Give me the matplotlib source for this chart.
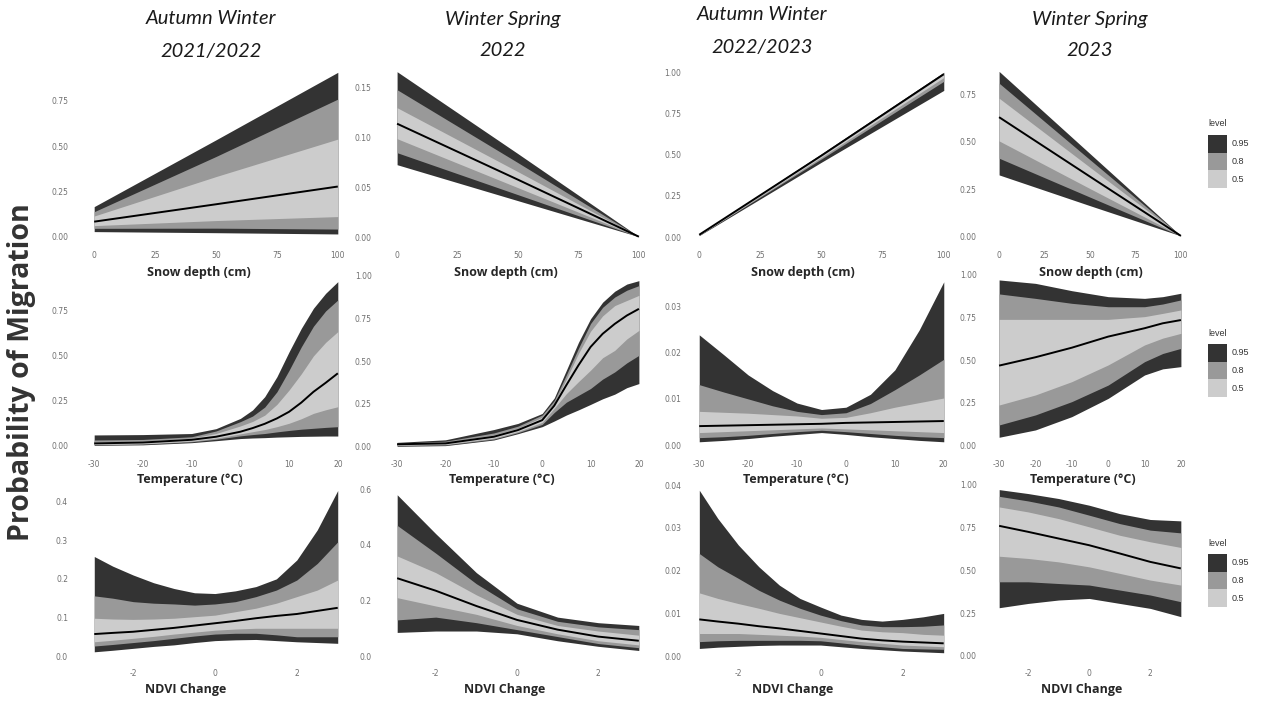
import matplotlib
matplotlib.use("Agg")
import matplotlib.pyplot as plt
from matplotlib.patches import Rectangle

# ----------------------------------------------------------------------
# Data
# each panel: [lo95, lo80, lo50, median, hi50, hi80, hi95]
# ----------------------------------------------------------------------
season_line1 = ["Autumn Winter", "Winter Spring", "Autumn Winter", "Winter Spring"]
season_line2 = ["2021/2022", "2022", "2022/2023", "2023"]
row_xlabels = ["Snow depth (cm)", "Temperature (°C)", "NDVI Change"]
levels = ["0.95", "0.8", "0.5"]

snow_x = [0, 50, 100]
temp_x_aw21 = [-30, -20, -10, -5, 0, 2.5, 5, 7.5, 10, 12.5, 15, 17.5, 20]
temp_x_ws22 = [-30, -20, -10, -5, 0, 2.5, 5, 7.5, 10, 12.5, 15, 17.5, 20]
temp_x_aw22 = [-30, -25, -20, -15, -10, -5, 0, 5, 10, 15, 20]
temp_x_ws23 = [-30, -20, -10, 0, 10, 15, 20]
ndvi_x = [-2.95, -2, -1, 0, 1, 2, 3]
ndvi_x_fine = [-2.95, -2.5, -2, -1.5, -1, -0.5, 0, 0.5, 1, 1.5, 2, 2.5, 3]

aw21_snow = [[0.028, 0.022, 0.015],
             [0.046, 0.047, 0.042],
             [0.061, 0.089, 0.111],
             [0.083, 0.179, 0.277],
             [0.114, 0.332, 0.539],
             [0.138, 0.443, 0.760],
             [0.166, 0.535, 0.908]]
ws22_snow = [[0.073, 0.037, 0.001],
             [0.085, 0.043, 0.001],
             [0.099, 0.050, 0.001],
             [0.114, 0.058, 0.001],
             [0.130, 0.066, 0.001],
             [0.148, 0.075, 0.001],
             [0.166, 0.084, 0.001]]
aw22_snow = [[0.010, 0.455, 0.890],
             [0.012, 0.475, 0.945],
             [0.013, 0.485, 0.968],
             [0.015, 0.495, 0.988],
             [0.016, 0.499, 0.992],
             [0.017, 0.502, 0.996],
             [0.018, 0.506, 1.000]]
ws23_snow = [[0.325, 0.163, 0.004],
             [0.413, 0.208, 0.004],
             [0.504, 0.253, 0.004],
             [0.629, 0.316, 0.004],
             [0.729, 0.365, 0.004],
             [0.808, 0.405, 0.004],
             [0.870, 0.437, 0.004]]

aw21_temp = [[0.002, 0.005, 0.017, 0.028, 0.040, 0.043, 0.045, 0.048, 0.050, 0.052, 0.053, 0.054, 0.054],
             [0.005, 0.009, 0.022, 0.036, 0.055, 0.062, 0.068, 0.077, 0.085, 0.092, 0.097, 0.102, 0.106],
             [0.008, 0.012, 0.026, 0.042, 0.066, 0.078, 0.090, 0.106, 0.125, 0.150, 0.180, 0.200, 0.217],
             [0.013, 0.018, 0.033, 0.050, 0.078, 0.098, 0.122, 0.152, 0.189, 0.240, 0.300, 0.350, 0.403],
             [0.022, 0.026, 0.042, 0.068, 0.110, 0.135, 0.170, 0.230, 0.310, 0.400, 0.500, 0.575, 0.635],
             [0.032, 0.035, 0.050, 0.082, 0.134, 0.165, 0.215, 0.300, 0.420, 0.550, 0.665, 0.750, 0.811],
             [0.060, 0.062, 0.068, 0.095, 0.152, 0.199, 0.273, 0.384, 0.523, 0.653, 0.765, 0.848, 0.913]]
ws22_temp = [[0.002, 0.006, 0.039, 0.076, 0.117, 0.150, 0.185, 0.215, 0.247, 0.280, 0.307, 0.345, 0.369],
             [0.006, 0.010, 0.044, 0.082, 0.130, 0.200, 0.260, 0.300, 0.340, 0.395, 0.437, 0.490, 0.534],
             [0.010, 0.014, 0.050, 0.088, 0.142, 0.225, 0.310, 0.380, 0.447, 0.520, 0.563, 0.630, 0.680],
             [0.014, 0.019, 0.058, 0.097, 0.155, 0.240, 0.360, 0.476, 0.583, 0.660, 0.718, 0.767, 0.806],
             [0.017, 0.026, 0.068, 0.108, 0.172, 0.255, 0.395, 0.545, 0.675, 0.765, 0.825, 0.855, 0.885],
             [0.020, 0.032, 0.080, 0.120, 0.185, 0.270, 0.420, 0.575, 0.720, 0.815, 0.875, 0.915, 0.942],
             [0.025, 0.040, 0.100, 0.136, 0.194, 0.285, 0.447, 0.610, 0.748, 0.845, 0.909, 0.951, 0.971]]
aw22_temp = [[0.0007, 0.0010, 0.0014, 0.0019, 0.0023, 0.0027, 0.0023, 0.0018, 0.0014, 0.0010, 0.0007],
             [0.0016, 0.0018, 0.0021, 0.0025, 0.0029, 0.0032, 0.0029, 0.0025, 0.0021, 0.0018, 0.0016],
             [0.0027, 0.0029, 0.0031, 0.0033, 0.0035, 0.0037, 0.0035, 0.0033, 0.0031, 0.0029, 0.0027],
             [0.0041, 0.0042, 0.0043, 0.0044, 0.0045, 0.0046, 0.0048, 0.0049, 0.0050, 0.0051, 0.0052],
             [0.0073, 0.0071, 0.0069, 0.0066, 0.0063, 0.0058, 0.0060, 0.0070, 0.0082, 0.0092, 0.0102],
             [0.0131, 0.0115, 0.0100, 0.0085, 0.0073, 0.0066, 0.0070, 0.0090, 0.0120, 0.0152, 0.0186],
             [0.0239, 0.0196, 0.0152, 0.0118, 0.0091, 0.0077, 0.0082, 0.0110, 0.0163, 0.0250, 0.0354]]
ws23_temp = [[0.049, 0.092, 0.170, 0.277, 0.414, 0.450, 0.463],
             [0.121, 0.180, 0.258, 0.355, 0.492, 0.540, 0.570],
             [0.238, 0.297, 0.375, 0.473, 0.590, 0.630, 0.658],
             [0.469, 0.518, 0.574, 0.639, 0.688, 0.717, 0.736],
             [0.740, 0.740, 0.740, 0.740, 0.756, 0.775, 0.795],
             [0.889, 0.863, 0.834, 0.814, 0.814, 0.830, 0.854],
             [0.971, 0.951, 0.908, 0.873, 0.863, 0.873, 0.893]]

aw21_ndvi = [[0.011, 0.015, 0.020, 0.025, 0.029, 0.035, 0.040, 0.042, 0.043, 0.040, 0.037, 0.035, 0.033],
             [0.026, 0.030, 0.035, 0.040, 0.046, 0.052, 0.057, 0.059, 0.059, 0.055, 0.050, 0.050, 0.050],
             [0.037, 0.041, 0.046, 0.051, 0.057, 0.062, 0.067, 0.070, 0.072, 0.072, 0.072, 0.072, 0.072],
             [0.057, 0.060, 0.063, 0.068, 0.073, 0.079, 0.085, 0.091, 0.098, 0.104, 0.109, 0.117, 0.125],
             [0.098, 0.096, 0.095, 0.096, 0.098, 0.102, 0.106, 0.115, 0.124, 0.137, 0.154, 0.171, 0.197],
             [0.156, 0.150, 0.141, 0.137, 0.135, 0.132, 0.135, 0.141, 0.154, 0.171, 0.197, 0.240, 0.296],
             [0.258, 0.233, 0.210, 0.190, 0.175, 0.164, 0.162, 0.169, 0.180, 0.200, 0.249, 0.327, 0.429]]
ws22_ndvi = [[0.085, 0.090, 0.090, 0.080, 0.055, 0.035, 0.020],
             [0.130, 0.140, 0.120, 0.095, 0.070, 0.045, 0.030],
             [0.210, 0.180, 0.150, 0.110, 0.080, 0.055, 0.040],
             [0.280, 0.235, 0.180, 0.130, 0.095, 0.070, 0.055],
             [0.360, 0.300, 0.220, 0.150, 0.110, 0.090, 0.075],
             [0.470, 0.370, 0.260, 0.170, 0.125, 0.105, 0.095],
             [0.580, 0.440, 0.300, 0.190, 0.140, 0.120, 0.110]]
aw22_ndvi = [[0.0018, 0.0021, 0.0023, 0.0025, 0.0026, 0.0026, 0.0026, 0.0022, 0.0018, 0.0015, 0.0012, 0.0010, 0.0008],
             [0.0034, 0.0036, 0.0037, 0.0037, 0.0037, 0.0037, 0.0036, 0.0031, 0.0026, 0.0022, 0.0018, 0.0017, 0.0016],
             [0.0053, 0.0053, 0.0053, 0.0051, 0.0049, 0.0047, 0.0044, 0.0039, 0.0034, 0.0030, 0.0026, 0.0024, 0.0022],
             [0.0086, 0.0081, 0.0076, 0.0070, 0.0065, 0.0059, 0.0053, 0.0047, 0.0041, 0.0037, 0.0034, 0.0032, 0.0030],
             [0.0148, 0.0135, 0.0123, 0.0112, 0.0100, 0.0090, 0.0080, 0.0070, 0.0061, 0.0057, 0.0055, 0.0051, 0.0049],
             [0.0240, 0.0209, 0.0182, 0.0154, 0.0131, 0.0112, 0.0096, 0.0083, 0.0073, 0.0069, 0.0069, 0.0070, 0.0073],
             [0.0388, 0.0322, 0.0260, 0.0209, 0.0166, 0.0135, 0.0115, 0.0096, 0.0086, 0.0082, 0.0086, 0.0092, 0.0100]]
ws23_ndvi = [[0.281, 0.306, 0.326, 0.335, 0.306, 0.277, 0.229],
             [0.432, 0.432, 0.422, 0.413, 0.384, 0.355, 0.316],
             [0.581, 0.568, 0.548, 0.519, 0.481, 0.442, 0.413],
             [0.758, 0.723, 0.684, 0.645, 0.597, 0.548, 0.510],
             [0.868, 0.839, 0.800, 0.752, 0.703, 0.665, 0.632],
             [0.930, 0.903, 0.868, 0.820, 0.771, 0.733, 0.717],
             [0.969, 0.946, 0.917, 0.878, 0.829, 0.795, 0.787]]

snow_xticks = [0, 25, 50, 75, 100]
temp_xticks = [-30, -20, -10, 0, 10, 20]
ndvi_xticks = [-2, 0, 2]

# per panel: (x, bands, yticks, tick format)
panels = [
    [(snow_x, aw21_snow, [0, 0.25, 0.5, 0.75], "{:.2f}"),
     (snow_x, ws22_snow, [0, 0.05, 0.10, 0.15], "{:.2f}"),
     (snow_x, aw22_snow, [0, 0.25, 0.5, 0.75, 1.0], "{:.2f}"),
     (snow_x, ws23_snow, [0, 0.25, 0.5, 0.75], "{:.2f}")],
    [(temp_x_aw21, aw21_temp, [0, 0.25, 0.5, 0.75], "{:.2f}"),
     (temp_x_ws22, ws22_temp, [0, 0.25, 0.5, 0.75, 1.0], "{:.2f}"),
     (temp_x_aw22, aw22_temp, [0, 0.01, 0.02, 0.03], "{:.2f}"),
     (temp_x_ws23, ws23_temp, [0, 0.25, 0.5, 0.75, 1.0], "{:.2f}")],
    [(ndvi_x_fine, aw21_ndvi, [0, 0.1, 0.2, 0.3, 0.4], "{:.1f}"),
     (ndvi_x, ws22_ndvi, [0, 0.2, 0.4, 0.6], "{:.1f}"),
     (ndvi_x_fine, aw22_ndvi, [0, 0.01, 0.02, 0.03, 0.04], "{:.2f}"),
     (ndvi_x, ws23_ndvi, [0, 0.25, 0.5, 0.75, 1.0], "{:.2f}")],
]
row_xticks = [snow_xticks, temp_xticks, ndvi_xticks]

# ----------------------------------------------------------------------
# Layout (pixels in a 1263 x 702 canvas)
# ----------------------------------------------------------------------
W, H = 1263, 702
col_px = [(82, 350), (385, 651), (687, 956), (990, 1190)]
row_px = [(64, 245), (268, 454), (477, 663)]
row_xlim = [(-5, 105), (-32.5, 22.5), (-3.25, 3.30)]
ylims = [[(-0.046, 0.954), (-0.0073, 0.1737), (-0.047, 1.050), (-0.044, 0.909)],
         [(-0.046, 0.989), (-0.043, 1.045), (-0.00195, 0.0384), (-0.049, 1.041)],
         [(-0.018, 0.464), (-0.025, 0.644), (-0.0016, 0.0419), (-0.041, 1.0425)]]
ytick_pad = [10, 9.5, 4, 9.5]
title_x = [211, 503, 762, 1090]
title_y1 = [19, 19, 15, 19]
title_y2 = [52, 50, 47, 50]
xlabel_x = [[199, 506, 803, 1091], [190, 502, 796, 1083], [186, 505, 793, 1082]]
xlabel_y = [273, 479, 690]
legend_top = [124, 333, 543]

fill_colors = ["#333333", "#999999", "#cccccc"]   # 0.95, 0.8, 0.5
tick_color = "#707070"
text_color = "#262626"
label_font = ["Open Sans", "DejaVu Sans"]
title_font = ["Lato", "DejaVu Sans"]
legend_font = ["Liberation Sans", "DejaVu Sans"]

fig = plt.figure(figsize=(W / 100, H / 100), dpi=100)


def fig_rect(x0, y0, x1, y1):
    return [x0 / W, 1 - y1 / H, (x1 - x0) / W, (y1 - y0) / H]


for r in range(3):
    for c in range(4):
        x, bands, yticks, fmt = panels[r][c]
        ax = fig.add_axes(fig_rect(col_px[c][0], row_px[r][0], col_px[c][1], row_px[r][1]))
        lo95, lo80, lo50, med, hi50, hi80, hi95 = bands
        ax.fill_between(x, lo95, hi95, color=fill_colors[0], linewidth=0)
        ax.fill_between(x, lo80, hi80, color=fill_colors[1], linewidth=0)
        ax.fill_between(x, lo50, hi50, color=fill_colors[2], linewidth=0)
        ax.plot(x, med, color="black", linewidth=1.4, solid_capstyle="butt")
        ax.set_xlim(*row_xlim[r])
        ax.set_ylim(*ylims[r][c])
        ax.set_xticks(row_xticks[r])
        ax.set_xticklabels([str(t) for t in row_xticks[r]])
        ax.set_yticks(yticks)
        ax.set_yticklabels([fmt.format(t) for t in yticks])
        ax.tick_params(axis="both", length=0, labelsize=5.5, labelcolor=tick_color)
        ax.tick_params(axis="y", pad=ytick_pad[c])
        ax.tick_params(axis="x", pad=4)
        for sp in ax.spines.values():
            sp.set_visible(False)
        ax.set_facecolor("none")
        fig.text(xlabel_x[r][c] / W, 1 - xlabel_y[r] / H, row_xlabels[r],
                 ha="center", va="center", fontsize=9, fontweight="bold",
                 color=text_color, family=label_font)

# season titles (two lines placed separately)
for c in range(4):
    fig.text(title_x[c] / W, 1 - title_y1[c] / H, season_line1[c], ha="center",
             va="center", fontsize=14.5, style="italic", color="#1a1a1a",
             family=title_font)
    fig.text(title_x[c] / W, 1 - title_y2[c] / H, season_line2[c], ha="center",
             va="center", fontsize=14.5, style="italic", color="#1a1a1a",
             family=title_font)

fig.text(22 / W, 1 - 372 / H, "Probability of Migration", rotation=90,
         ha="center", va="center", fontsize=20.5, fontweight="bold",
         color="#333333", family=label_font)

# legends to the right of the last column
for r in range(3):
    top = legend_top[r]
    fig.text(1208 / W, 1 - top / H, "level", ha="left", va="center",
             fontsize=6.5, color="#333333", family=legend_font)
    for i, lab in enumerate(levels):
        y0 = top + 11 + i * 17.7
        fig.patches.append(Rectangle((1208 / W, 1 - (y0 + 17.7) / H), 19 / W, 17.7 / H,
                                     transform=fig.transFigure, facecolor=fill_colors[i],
                                     edgecolor="none"))
        fig.text(1232 / W, 1 - (y0 + 8.85) / H, lab, ha="left", va="center",
                 fontsize=6.5, color="#333333", family=legend_font)

fig.savefig("out.png", dpi=100, facecolor="white")
